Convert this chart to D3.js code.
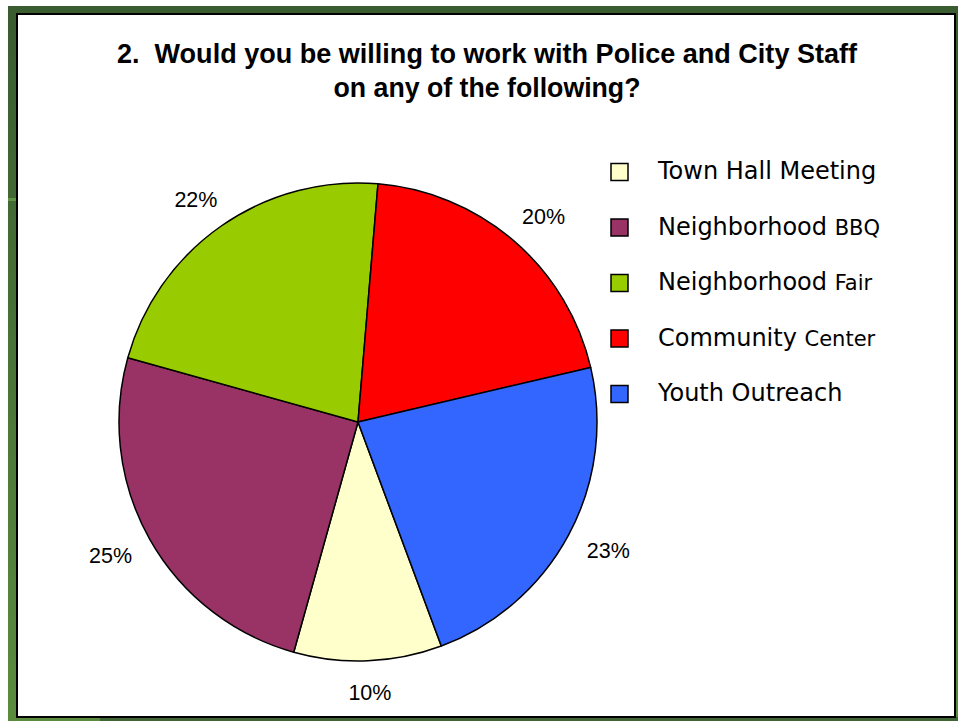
<!DOCTYPE html>
<html>
<head>
<meta charset="utf-8">
<script src="https://cdn.jsdelivr.net/npm/d3@7"></script>
<style>
  html, body { margin: 0; padding: 0; background: #ffffff; }
  svg { display: block; }
</style>
</head>
<body>
<script>
// Survey question 2: willingness to work with Police and City Staff
const categories = ["Town Hall Meeting", "Neighborhood BBQ", "Neighborhood Fair", "Community Center", "Youth Outreach"];
// legend labels: [main part, smaller trailing part]
const legendParts = [["Town Hall Meeting", ""], ["Neighborhood ", "BBQ"], ["Neighborhood ", "Fair"], ["Community ", "Center"], ["Youth Outreach", ""]];
const values = [10, 25, 22, 20, 23];
const colors = ["#FFFFCC", "#993366", "#99CC00", "#FF0000", "#3366FF"];
const titleLines = ["2.  Would you be willing to work with Police and City Staff", "on any of the following?"];

const W = 958, H = 721;
const svg = d3.select("body").append("svg").attr("width", W).attr("height", H);

// green frame
const defs = svg.append("defs");
const grad = defs.append("linearGradient").attr("id", "frameGrad")
  .attr("x1", 0).attr("y1", 0).attr("x2", 0).attr("y2", 1);
grad.append("stop").attr("offset", "0%").attr("stop-color", "#395c30");
grad.append("stop").attr("offset", "100%").attr("stop-color", "#5a8c3e");
svg.append("rect").attr("x", 8).attr("y", 6).attr("width", W - 8).attr("height", H - 6)
  .attr("fill", "url(#frameGrad)");
svg.append("rect").attr("x", 8).attr("y", 198).attr("width", 9).attr("height", 3).attr("fill", "#5e9442");
svg.append("rect").attr("x", 100).attr("y", 717).attr("width", W - 100).attr("height", 4).attr("fill", "#3f6634");

// white panel
svg.append("rect").attr("x", 17).attr("y", 14).attr("width", 938).attr("height", 703)
  .attr("fill", "#ffffff").attr("stroke", "#000").attr("stroke-width", 2);

// title
const title = svg.append("text")
  .attr("text-anchor", "middle")
  .style("font-family", "'Liberation Sans', Arial, sans-serif")
  .style("font-weight", "bold")
  .style("font-size", "27px")
  .style("white-space", "pre")
  .attr("fill", "#000");
title.append("tspan").attr("x", 487).attr("y", 63).text(titleLines[0])
  .attr("textLength", 740).attr("lengthAdjust", "spacingAndGlyphs");
title.append("tspan").attr("x", 487).attr("y", 97).text(titleLines[1])
  .attr("textLength", 307).attr("lengthAdjust", "spacingAndGlyphs");

// pie
const cx = 358, cy = 422, R = 239;
const startDeg = 159.6;
const pie = d3.pie().sort(null).value(d => d)
  .startAngle(startDeg * Math.PI / 180)
  .endAngle((startDeg + 360) * Math.PI / 180);
const arcs = pie(values);
const arc = d3.arc().innerRadius(0).outerRadius(R);

const g = svg.append("g").attr("transform", `translate(${cx},${cy})`);
g.selectAll("path.slice").data(arcs).enter().append("path")
  .attr("class", "slice")
  .attr("d", arc)
  .attr("fill", (d, i) => colors[i])
  .attr("stroke", "#000")
  .attr("stroke-width", 1.5)
  .attr("stroke-linejoin", "round");

// percentage labels: box placed just outside the rim, pushed outward along the slice's mid-angle
const labelGap = 261, boxW = 46, boxH = 20;
g.selectAll("text.pct").data(arcs).enter().append("text")
  .attr("class", "pct")
  .attr("transform", d => {
    const a = (d.startAngle + d.endAngle) / 2;
    const s = Math.sin(a), c = Math.cos(a);
    const x = labelGap * s + (boxW / 2) * s;
    const y = -labelGap * c - (boxH / 2) * c;
    return `translate(${x},${y})`;
  })
  .attr("text-anchor", "middle")
  .attr("dy", "0.35em")
  .style("font-family", "'Liberation Sans', Arial, sans-serif")
  .style("font-size", "21.5px")
  .attr("fill", "#000")
  .text(d => d.data + "%");

// legend
const yLeg = d3.scalePoint().domain(categories).range([172, 394]);
const leg = svg.append("g");
const item = leg.selectAll("g").data(categories).enter().append("g")
  .attr("transform", d => `translate(0,${yLeg(d)})`);
item.append("rect")
  .attr("x", 611).attr("y", -8.5).attr("width", 17).attr("height", 17)
  .attr("fill", (d, i) => colors[i])
  .attr("stroke", "#000").attr("stroke-width", 1.5);
const lt = item.append("text")
  .attr("x", 658).attr("y", 7)
  .style("font-family", "'DejaVu Sans', Verdana, sans-serif")
  .style("white-space", "pre")
  .attr("fill", "#000");
lt.append("tspan").style("font-size", "24px").text((d, i) => legendParts[i][0]);
lt.append("tspan").style("font-size", "21px").text((d, i) => legendParts[i][1]);
</script>
</body>
</html>
